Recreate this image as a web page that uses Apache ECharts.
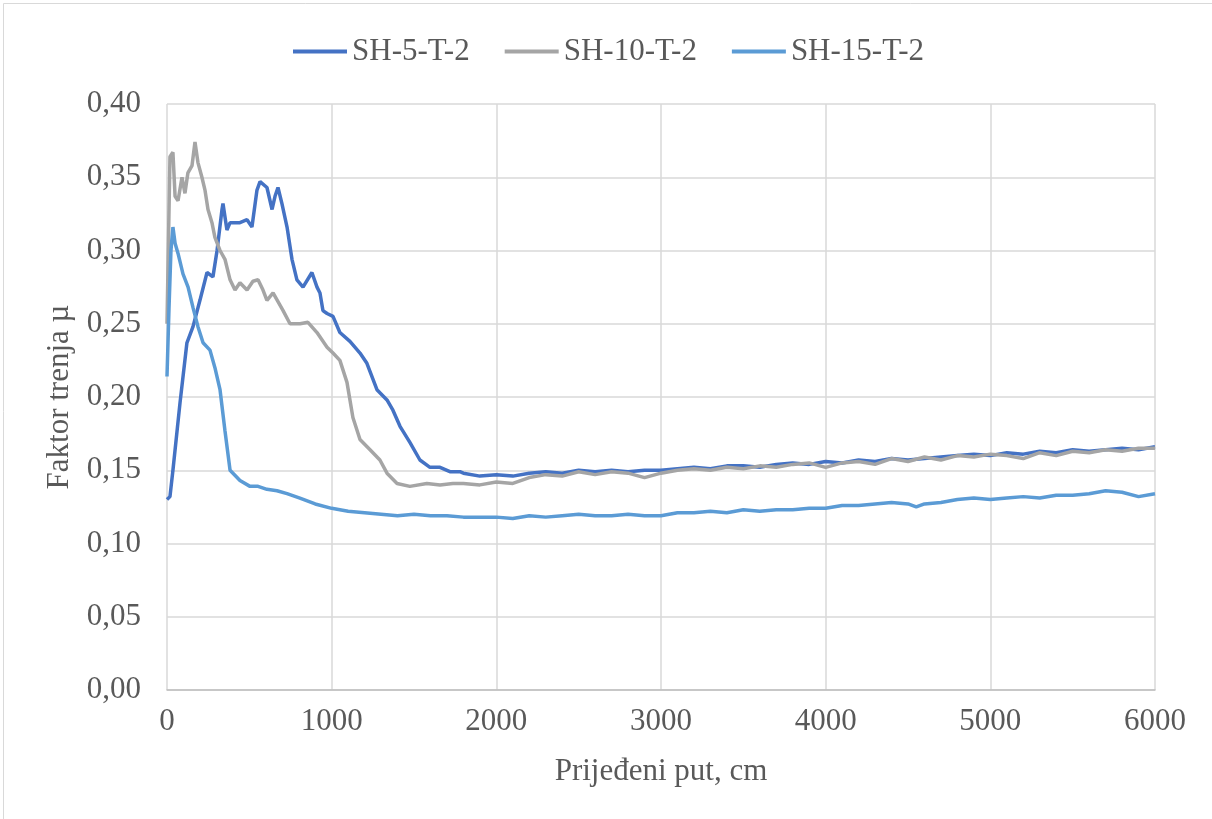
<!DOCTYPE html>
<html>
<head>
<meta charset="utf-8">
<script src="https://cdn.jsdelivr.net/npm/echarts@6/dist/echarts.min.js"></script>
<style>
  html, body { margin: 0; padding: 0; background: #fff; }
  #chart { width: 1212px; height: 819px; }
</style>
</head>
<body>
<div id="chart"></div>
<script>
// Prijeđeni put (cm) and faktor trenja for each sample
const distSH5 = [0, 18, 36, 79, 121, 158, 200, 243, 279, 304, 334, 340, 364, 383, 443, 486, 516, 546, 565, 607, 638, 656, 674, 698, 729, 759, 789, 826, 880, 911, 929, 947, 972, 1008, 1050, 1111, 1172, 1214, 1275, 1336, 1372, 1415, 1475, 1536, 1597, 1658, 1718, 1779,
  1800, 1900, 2000, 2100, 2200, 2300, 2400, 2500, 2600, 2700, 2800, 2900, 3000, 3100, 3200, 3300, 3400, 3500, 3600, 3700, 3800, 3900, 4000, 4100, 4200, 4300, 4400, 4500, 4600, 4700, 4800, 4900, 5000, 5100, 5200, 5300, 5400, 5500, 5600, 5700, 5800, 5900, 6000];
const muSH5 = [0.130, 0.132, 0.150, 0.196, 0.237, 0.248, 0.266, 0.285, 0.282, 0.300, 0.328, 0.332, 0.314, 0.319, 0.319, 0.321, 0.316, 0.341, 0.347, 0.343, 0.328, 0.337, 0.343, 0.332, 0.316, 0.294, 0.280, 0.275, 0.285, 0.275, 0.271, 0.259, 0.257, 0.255, 0.244, 0.238, 0.230, 0.223, 0.205, 0.198, 0.191, 0.180, 0.169, 0.157, 0.152, 0.152, 0.149, 0.149,
  0.148, 0.146, 0.147, 0.146, 0.148, 0.149, 0.148, 0.150, 0.149, 0.150, 0.149, 0.150, 0.150, 0.151, 0.152, 0.151, 0.153, 0.153, 0.152, 0.154, 0.155, 0.154, 0.156, 0.155, 0.157, 0.156, 0.158, 0.157, 0.158, 0.159, 0.160, 0.161, 0.160, 0.162, 0.161, 0.163, 0.162, 0.164, 0.163, 0.164, 0.165, 0.164, 0.166];

const distSH10 = [0, 18, 36, 49, 67, 91, 109, 127, 152, 170, 188, 212, 231, 249, 273, 291, 322, 352, 383, 413, 443, 486, 522, 553, 583, 607, 644, 705, 747, 808, 856, 911, 972, 1008, 1050, 1093, 1129, 1172, 1233, 1293, 1336, 1397, 1475, 1578, 1658, 1736,
  1800, 1900, 2000, 2100, 2200, 2300, 2400, 2500, 2600, 2700, 2800, 2900, 3000, 3100, 3200, 3300, 3400, 3500, 3600, 3700, 3800, 3900, 4000, 4100, 4200, 4300, 4400, 4500, 4600, 4700, 4800, 4900, 5000, 5100, 5200, 5300, 5400, 5500, 5600, 5700, 5800, 5900, 6000];
const muSH10 = [0.250, 0.364, 0.367, 0.337, 0.334, 0.350, 0.339, 0.353, 0.358, 0.374, 0.360, 0.350, 0.341, 0.328, 0.319, 0.309, 0.300, 0.294, 0.280, 0.273, 0.278, 0.273, 0.279, 0.280, 0.273, 0.266, 0.271, 0.259, 0.250, 0.250, 0.251, 0.244, 0.234, 0.230, 0.225, 0.210, 0.186, 0.171, 0.164, 0.157, 0.148, 0.141, 0.139, 0.141, 0.140, 0.141,
  0.141, 0.140, 0.142, 0.141, 0.145, 0.147, 0.146, 0.149, 0.147, 0.149, 0.148, 0.145, 0.148, 0.150, 0.151, 0.150, 0.152, 0.151, 0.153, 0.152, 0.154, 0.155, 0.152, 0.155, 0.156, 0.154, 0.158, 0.156, 0.159, 0.157, 0.160, 0.159, 0.161, 0.160, 0.158, 0.162, 0.160, 0.163, 0.162, 0.164, 0.163, 0.165, 0.165];

const distSH15 = [0, 12, 24, 36, 49, 67, 97, 128, 158, 188, 219, 261, 291, 322, 352, 383, 443, 504, 553, 607, 668, 729, 807,
  900, 1000, 1100, 1200, 1300, 1400, 1500, 1600, 1700, 1800, 1900, 2000, 2100, 2200, 2300, 2400, 2500, 2600, 2700, 2800, 2900, 3000, 3100, 3200, 3300, 3400, 3500, 3600, 3700, 3800, 3900, 4000, 4100, 4200, 4300, 4400, 4500, 4550, 4600, 4700, 4800, 4900, 5000, 5100, 5200, 5300, 5400, 5500, 5600, 5700, 5800, 5900, 6000];
const muSH15 = [0.214, 0.260, 0.300, 0.316, 0.305, 0.298, 0.284, 0.275, 0.261, 0.248, 0.237, 0.232, 0.220, 0.205, 0.177, 0.150, 0.143, 0.139, 0.139, 0.137, 0.136, 0.134, 0.131,
  0.127, 0.124, 0.122, 0.121, 0.120, 0.119, 0.120, 0.119, 0.119, 0.118, 0.118, 0.118, 0.117, 0.119, 0.118, 0.119, 0.120, 0.119, 0.119, 0.120, 0.119, 0.119, 0.121, 0.121, 0.122, 0.121, 0.123, 0.122, 0.123, 0.123, 0.124, 0.124, 0.126, 0.126, 0.127, 0.128, 0.127, 0.125, 0.127, 0.128, 0.130, 0.131, 0.130, 0.131, 0.132, 0.131, 0.133, 0.133, 0.134, 0.136, 0.135, 0.132, 0.134];

const seriesNames = ['SH-5-T-2', 'SH-10-T-2', 'SH-15-T-2'];
const seriesColors = ['#4472C4', '#A5A5A5', '#5B9BD5'];

const pairs = (xs, ys) => xs.map((x, i) => [x, ys[i]]);
const seriesData = [pairs(distSH5, muSH5), pairs(distSH10, muSH10), pairs(distSH15, muSH15)];

const font = 'Liberation Serif';
const textColor = '#595959';
const fs = 31;

const chart = echarts.init(document.getElementById('chart'));
chart.setOption({
  animation: false,
  textStyle: { fontFamily: font },
  graphic: [{
    type: 'rect', left: 1, top: 1,
    shape: { width: 1209, height: 816 },
    style: { fill: 'none', stroke: '#D9D9D9', lineWidth: 1 }
  }],
  legend: {
    top: 31, left: 288,
    itemWidth: 54, itemHeight: 4, itemGap: 35, icon: 'rect',
    textStyle: { color: textColor, fontSize: fs, fontFamily: font }
  },
  grid: { left: 167, right: 57, top: 104, bottom: 129 },
  xAxis: {
    type: 'value', min: 0, max: 6000, interval: 1000,
    name: 'Prijeđeni put, cm', nameLocation: 'middle', nameGap: 66,
    nameTextStyle: { color: textColor, fontSize: fs, fontFamily: font },
    axisLine: { show: true, lineStyle: { color: '#BFBFBF', width: 1.5 } },
    axisTick: { show: false },
    axisLabel: { color: textColor, fontSize: fs, fontFamily: font, margin: 16,
      formatter: v => String(v) },
    splitLine: { show: true, lineStyle: { color: '#D9D9D9', width: 1.5 } }
  },
  yAxis: {
    type: 'value', min: 0, max: 0.4, interval: 0.05,
    name: 'Faktor trenja µ', nameLocation: 'middle', nameGap: 89,
    nameTextStyle: { color: textColor, fontSize: fs, fontFamily: font },
    axisLine: { show: false },
    axisTick: { show: false },
    axisLabel: { color: textColor, fontSize: fs, fontFamily: font, margin: 26,
      formatter: v => v.toFixed(2).replace('.', ',') },
    splitLine: { show: true, lineStyle: { color: '#D9D9D9', width: 1.5 } }
  },
  series: seriesNames.map((name, i) => ({
    name, type: 'line', data: seriesData[i],
    showSymbol: false, symbol: 'none',
    lineStyle: { color: seriesColors[i], width: 3.5 },
    itemStyle: { color: seriesColors[i] }
  }))
});
</script>
</body>
</html>
